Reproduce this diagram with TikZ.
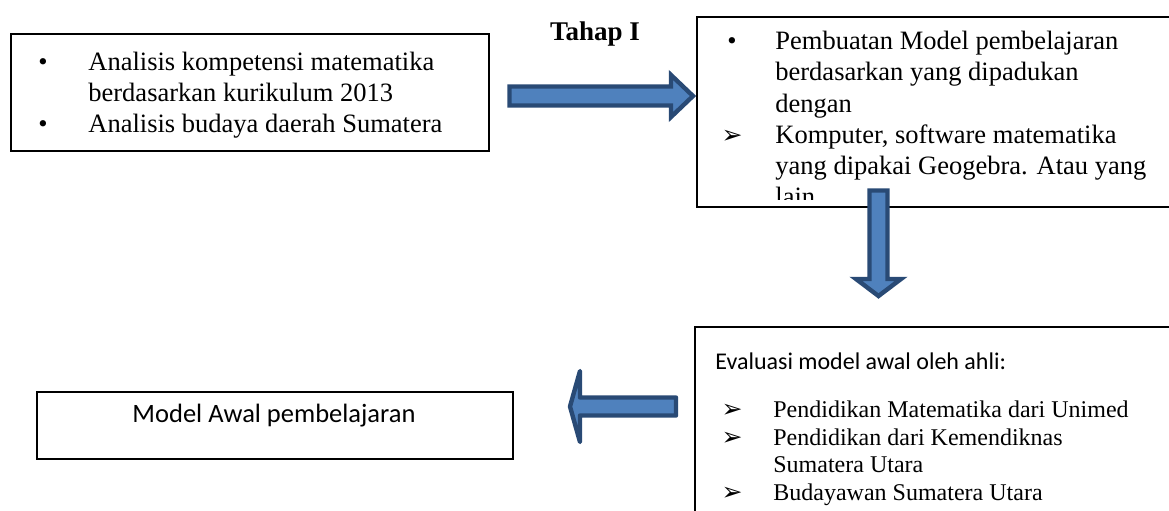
\documentclass[tikz,border=0pt]{standalone}
\usepackage{fontspec}
\setmainfont{Liberation Serif}
\newfontfamily\calibrifont{Carlito}
\newfontfamily\dingfont{DejaVu Sans}
\usepackage{tikz}
\usetikzlibrary{positioning}
\definecolor{arrowfill}{HTML}{4F81BD}
\definecolor{arrowline}{HTML}{294A75}
\tikzset{
    panel/.style={
        draw,
        line width=1pt,
        fill=white,
        inner sep=0pt,
        anchor=north west
    },
    itemtext/.style={
        inner sep=0pt,
        anchor=base west,
        font=\fontsize{13.25}{15.5}\selectfont
    },
    itemtextsm/.style={
        inner sep=0pt,
        anchor=base west,
        font=\fontsize{12}{14}\selectfont
    },
    bulletdot/.style={
        inner sep=0pt,
        anchor=base,
        font=\fontsize{13.25}{15.5}\selectfont
    },
    bulletarrow/.style={
        inner sep=0pt,
        anchor=base,
        font=\dingfont\fontsize{12.5}{14}\selectfont
    },
    blockarrow/.style={
        draw=arrowline,
        fill=arrowfill,
        line width=2.2pt,
        line join=miter
    }
}

\begin{document}
\begin{tikzpicture}[x=0.5pt, y=-0.5pt]
  \useasboundingbox (0,0) rectangle (1169,510);
  \clip (0,0) rectangle (1169,510);

  % Boxes
  \node[panel, minimum width=239pt, minimum height=58.5pt] (analisis) at (10,33) {};
  \node[panel, minimum width=242pt, minimum height=95pt] (pembuatan) at (696,16) {};
  \node[panel, minimum width=243pt, minimum height=102pt] (evaluasi) at (694,326) {};
  \node[panel, minimum width=238pt, minimum height=33.5pt] (modelawal) at (36,391) {};

  % Title
  \node[anchor=base, inner sep=0pt, font=\bfseries\fontsize{13.5}{16}\selectfont] (tahap) at (595,40) {Tahap I};

  % Stage 1: analysis
  \node[bulletdot] (anabul1) at (43,70) {•};
  \node[bulletdot] (anabul2) at (43,132) {•};
  \foreach \y/\txt in {70/Analisis kompetensi matematika, 101/berdasarkan kurikulum 2013, 132/Analisis budaya daerah Sumatera}
    \node[itemtext] (ana\y) at (88,\y) {\txt};

  % Stage 2: model design (text cut at the box bottom)
  \begin{scope}
    \clip (696,16) rectangle (1169,199);
    \node[bulletdot] (buatbul1) at (732,49) {•};
    \node[bulletarrow] (buatbul2) at (732,143) {➢};
    \foreach \y/\txt in {49/Pembuatan Model pembelajaran, 80/berdasarkan yang dipadukan, 112/dengan, 143/{Komputer, software matematika}, 174/yang dipakai Geogebra. Atau yang, 205/lain}
      \node[itemtext] (buat\y) at (775,\y) {\txt};
  \end{scope}

  % Stage 3: expert evaluation
  \node[anchor=base west, inner sep=0pt, font=\calibrifont\fontsize{12}{14}\selectfont] (evalhead) at (715,369) {Evaluasi model awal oleh ahli:};
  \foreach \y in {417.5,445.5,500.5}
    \node[bulletarrow] (evalbul\y) at (732,\y) {➢};
  \foreach \y/\txt in {417.5/Pendidikan Matematika dari Unimed, 445.5/Pendidikan dari Kemendiknas, 472.5/Sumatera Utara, 500.5/Budayawan Sumatera Utara}
    \node[itemtextsm] (eval\y) at (773,\y) {\txt};

  % Result
  \node[anchor=base, inner sep=0pt, font=\calibrifont\fontsize{13.25}{16}\selectfont] (modeltext) at (274,422) {Model Awal pembelajaran};

  % Block arrows
  \draw[blockarrow] (509.5,86.5) -- (671,86.5) -- (671,75) -- (693,96) -- (671,117) -- (671,105.5) -- (509.5,105.5) -- cycle;
  \draw[blockarrow] (869.5,190.5) -- (887.5,190.5) -- (887.5,279) -- (901,279) -- (878.5,296) -- (856,279) -- (869.5,279) -- cycle;
  \draw[blockarrow, line join=round] (676,397.5) -- (580,397.5) -- (580,371) -- (570,406.5) -- (580,442) -- (580,415.5) -- (676,415.5) -- cycle;
\end{tikzpicture}
\end{document}
